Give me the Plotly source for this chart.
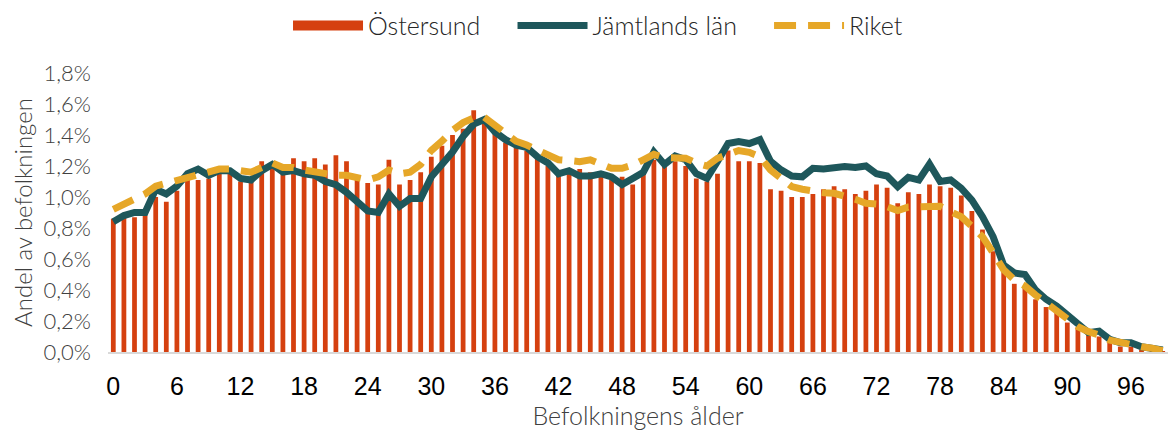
import plotly.graph_objects as go

ages = list(range(100))

ostersund = [0.86, 0.87, 0.87, 0.88, 1.00, 0.97, 1.04, 1.12, 1.11, 1.12,
             1.15, 1.16, 1.10, 1.10, 1.23, 1.22, 1.20, 1.25, 1.23, 1.25,
             1.21, 1.27, 1.23, 1.12, 1.09, 1.08, 1.24, 1.08, 1.11, 1.16,
             1.26, 1.33, 1.40, 1.44, 1.56, 1.49, 1.41, 1.35, 1.32, 1.30,
             1.25, 1.20, 1.17, 1.17, 1.18, 1.16, 1.14, 1.11, 1.13, 1.08,
             1.15, 1.24, 1.20, 1.23, 1.20, 1.12, 1.10, 1.15, 1.30, 1.23,
             1.23, 1.22, 1.05, 1.04, 1.00, 1.00, 1.02, 1.05, 1.07, 1.05,
             1.02, 1.04, 1.08, 1.06, 0.96, 1.03, 1.02, 1.08, 1.07, 1.06,
             1.01, 0.91, 0.79, 0.65, 0.54, 0.44, 0.42, 0.34, 0.29, 0.27,
             0.19, 0.16, 0.11, 0.10, 0.08, 0.035, 0.035, 0.015, 0.01, 0.005]

jamtland = [0.84, 0.88, 0.90, 0.90, 1.05, 1.02, 1.07, 1.15, 1.18, 1.14,
            1.17, 1.17, 1.12, 1.11, 1.17, 1.21, 1.16, 1.17, 1.15, 1.14,
            1.10, 1.08, 1.03, 0.97, 0.91, 0.90, 1.02, 0.94, 0.99, 0.99,
            1.13, 1.21, 1.29, 1.39, 1.47, 1.50, 1.42, 1.37, 1.335, 1.32,
            1.26, 1.22, 1.15, 1.17, 1.135, 1.135, 1.15, 1.13, 1.08, 1.12,
            1.16, 1.29, 1.21, 1.265, 1.24, 1.15, 1.12, 1.23, 1.345, 1.357,
            1.345, 1.37, 1.23, 1.175, 1.135, 1.13, 1.185, 1.18, 1.19, 1.196,
            1.19, 1.20, 1.15, 1.135, 1.067, 1.127, 1.11, 1.213, 1.10, 1.11,
            1.056, 0.98, 0.873, 0.744, 0.56, 0.51, 0.50, 0.40, 0.34, 0.297,
            0.239, 0.185, 0.125, 0.135, 0.082, 0.06, 0.06, 0.034, 0.019, 0.013]

riket = [0.92, 0.95, 0.99, 1.02, 1.07, 1.09, 1.105, 1.12, 1.146, 1.17,
         1.18, 1.18, 1.17, 1.16, 1.19, 1.22, 1.19, 1.19, 1.174, 1.16,
         1.153, 1.14, 1.14, 1.127, 1.11, 1.13, 1.174, 1.15, 1.16, 1.21,
         1.30, 1.36, 1.43, 1.48, 1.51, 1.515, 1.465, 1.41, 1.36, 1.335,
         1.30, 1.265, 1.24, 1.235, 1.228, 1.24, 1.21, 1.185, 1.185, 1.206,
         1.24, 1.275, 1.254, 1.25, 1.25, 1.22, 1.20, 1.25, 1.28, 1.30,
         1.288, 1.26, 1.174, 1.12, 1.067, 1.05, 1.034, 1.028, 1.024, 1.01,
         0.985, 0.96, 0.955, 0.938, 0.912, 0.935, 0.94, 0.946, 0.94, 0.905,
         0.873, 0.81, 0.744, 0.64, 0.53, 0.465, 0.426, 0.368, 0.314, 0.26,
         0.21, 0.163, 0.131, 0.11, 0.077, 0.06, 0.045, 0.034, 0.024, 0.009]

x_ticks = list(range(0, 97, 6))
y_ticks = [0.0, 0.2, 0.4, 0.6, 0.8, 1.0, 1.2, 1.4, 1.6, 1.8]
y_ticktext = [f"{v:.1f}".replace(".", ",") + "%" for v in y_ticks]

RED = "#D5400F"
TEAL = "#1E575B"
GOLD = "#E6A728"
LIGHT = "Lato"
PAD = "\u00a0" * 4

fig = go.Figure()
fig.add_trace(go.Bar(x=ages, y=ostersund, name="Östersund", showlegend=False,
                     marker=dict(color=RED, line=dict(width=0))))
# legend entry for the bars (wide rectangle like the reference)
fig.add_trace(go.Scatter(x=[None], y=[None], name="Östersund" + PAD, mode="lines",
                         line=dict(color=RED, width=17)))
fig.add_trace(go.Scatter(x=ages, y=jamtland, name="Jämtlands län" + PAD, mode="lines",
                         line=dict(color=TEAL, width=7)))
fig.add_trace(go.Scatter(x=ages, y=riket, name="Riket", mode="lines",
                         line=dict(color=GOLD, width=7, dash="22px,12px")))

fig.update_layout(
    width=1168, height=430,
    margin=dict(l=108, r=0, t=73, b=78, autoexpand=False),
    paper_bgcolor="white", plot_bgcolor="white",
    bargap=0.55,
    showlegend=True,
    legend=dict(orientation="h", xref="container", x=0.512, xanchor="center",
                yref="container", y=0.94, yanchor="middle", itemwidth=70,
                tracegroupgap=0,
                font=dict(family=LIGHT, size=25, color="#262626", weight=300)),
    xaxis=dict(range=[-0.5, 99.5], tickmode="array", tickvals=x_ticks,
               ticktext=[str(v) for v in x_ticks], showgrid=False, zeroline=False,
               showline=True, linecolor="#D9D9D9", linewidth=2,
               ticks="", ticklabelstandoff=11, automargin=False,
               tickfont=dict(family="Liberation Sans", size=25, color="#000000"),
               title=dict(text="Befolkningens ålder", standoff=3,
                          font=dict(family=LIGHT, size=25, color="#404040", weight=300))),
    yaxis=dict(range=[0, 1.8], tickmode="array", tickvals=y_ticks,
               ticktext=y_ticktext, showgrid=False, zeroline=False,
               showline=False, ticks="", ticklabelstandoff=16, automargin=False,
               tickfont=dict(family=LIGHT, size=22, color="#404040", weight=300),
               title=dict(text="Andel av befolkningen", standoff=4,
                          font=dict(family=LIGHT, size=24, color="#404040", weight=300))),
)
fig.write_html("out.html", config={"displayModeBar": False},
               post_script="document.body.style.margin='0';document.body.style.overflow='hidden';")
